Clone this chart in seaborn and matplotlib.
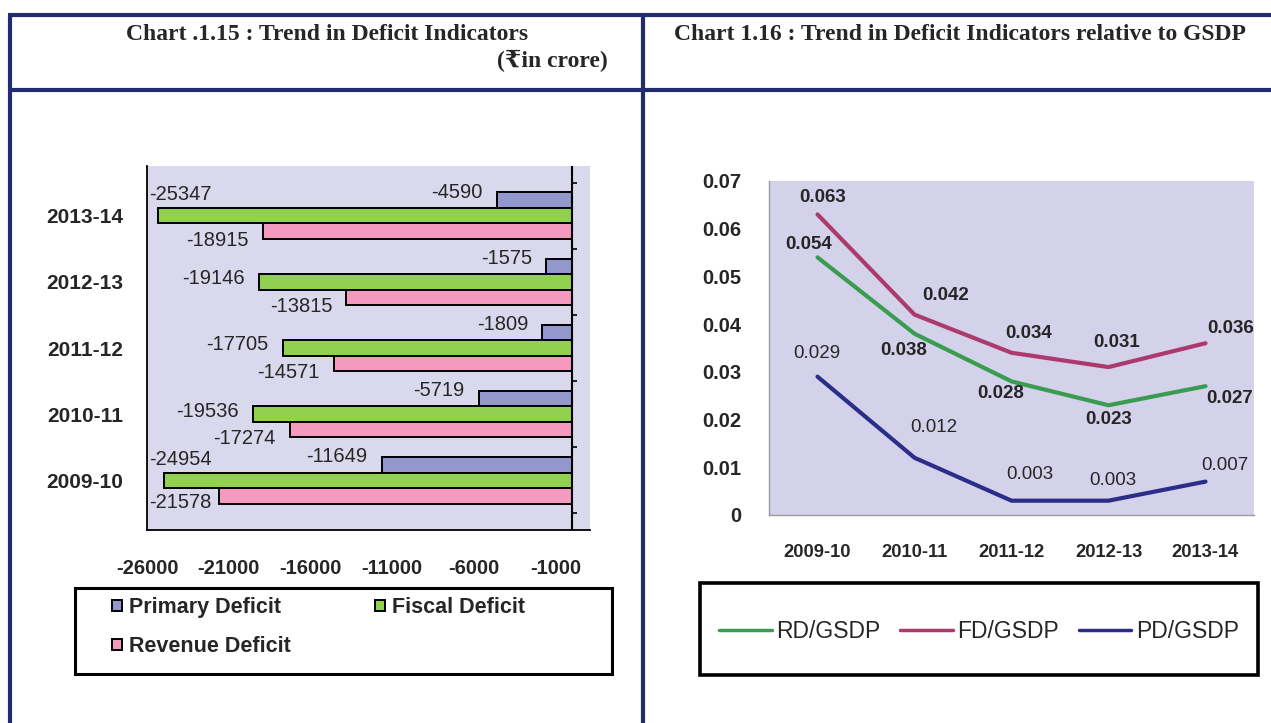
import matplotlib
matplotlib.use("Agg")
import matplotlib.pyplot as plt
import matplotlib.ticker as mticker
from matplotlib.lines import Line2D
from matplotlib.patches import Rectangle
import seaborn as sns
import pandas as pd
import numpy as np

# ---------------- data ----------------
years_bar = ["2013-14", "2012-13", "2011-12", "2010-11", "2009-10"]
primary_deficit = [-4590, -1575, -1809, -5719, -11649]
fiscal_deficit = [-25347, -19146, -17705, -19536, -24954]
revenue_deficit = [-18915, -13815, -14571, -17274, -21578]
bar_series = ["Primary Deficit", "Fiscal Deficit", "Revenue Deficit"]
bar_xticks = [-26000, -21000, -16000, -11000, -6000, -1000]

years_line = ["2009-10", "2010-11", "2011-12", "2012-13", "2013-14"]
rd_gsdp = [0.054, 0.038, 0.028, 0.023, 0.027]
fd_gsdp = [0.063, 0.042, 0.034, 0.031, 0.036]
pd_gsdp = [0.029, 0.012, 0.003, 0.003, 0.007]
line_series = ["RD/GSDP", "FD/GSDP", "PD/GSDP"]
line_yticks = [0, 0.01, 0.02, 0.03, 0.04, 0.05, 0.06, 0.07]

title_left = "Chart .1.15 : Trend in Deficit Indicators"
unit_left = "(₹in crore)"
title_right = "Chart 1.16 : Trend in Deficit Indicators relative to GSDP"

# ---------------- style ----------------
sns.set_theme(style="white")
plt.rcParams["font.family"] = ["Liberation Sans", "DejaVu Sans"]

W, H = 1271, 723
fig = plt.figure(figsize=(W / 100, H / 100), dpi=100)
fig.patch.set_facecolor("white")

def fx(px):
    return px / W

def fy(py):
    return 1 - py / H

navy = "#232c70"
bar_colors = {"Primary Deficit": "#9298cc", "Fiscal Deficit": "#92d050", "Revenue Deficit": "#f49ac0"}
line_colors = {"RD/GSDP": "#3a9c50", "FD/GSDP": "#ad3a6c", "PD/GSDP": "#2b2e88"}

# ---------------- frame lines ----------------
frame_kw = dict(color=navy, lw=3.0, transform=fig.transFigure, solid_capstyle="butt")
fig.add_artist(Line2D([fx(8), 1], [fy(15), fy(15)], **frame_kw))
fig.add_artist(Line2D([fx(8), 1], [fy(90), fy(90)], **frame_kw))
fig.add_artist(Line2D([fx(10), fx(10)], [0, fy(15)], **frame_kw))
fig.add_artist(Line2D([fx(643), fx(643)], [0, fy(15)], **frame_kw))

serif = ["Liberation Serif", "DejaVu Serif", "DejaVu Sans"]
fig.text(fx(327), fy(34), title_left, ha="center", va="center", fontsize=17,
         fontweight="bold", family=serif)
fig.text(fx(552), fy(61), unit_left, ha="center", va="center", fontsize=17,
         fontweight="bold", family=serif)
fig.text(fx(960), fy(34), title_right, ha="center", va="center", fontsize=17,
         fontweight="bold", family=serif)

# ---------------- left: bar chart ----------------
ax1 = fig.add_axes([fx(147), fy(530), fx(590) - fx(147), fy(166) - fy(530)])
ax1.set_facecolor("#d9d8ec")
df_bar = pd.DataFrame({
    "Year": years_bar * 3,
    "Value": primary_deficit + fiscal_deficit + revenue_deficit,
    "Indicator": [s for s in bar_series for _ in years_bar],
})
sns.barplot(data=df_bar, y="Year", x="Value", hue="Indicator", order=years_bar,
            hue_order=bar_series, palette=bar_colors, orient="h", width=0.7,
            edgecolor="black", linewidth=1.4, saturation=1, ax=ax1, legend=True)
ax1.set_xlim(-26000, 1100)
ax1.set_xticks(bar_xticks)
ax1.set_xticklabels([str(v) for v in bar_xticks])
ax1.set_xlabel("")
ax1.set_ylabel("")
for s in ["top", "right"]:
    ax1.spines[s].set_visible(False)
for s in ["left", "bottom"]:
    ax1.spines[s].set_color("black")
    ax1.spines[s].set_linewidth(1.3)
ax1.tick_params(axis="x", length=4, width=1.2, color="black", direction="out",
                pad=17, labelsize=14.5)
ax1.tick_params(axis="y", length=0, pad=17, labelsize=15)
for lab in ax1.get_xticklabels() + ax1.get_yticklabels():
    lab.set_fontweight("bold")
ax1.axvline(0, color="black", lw=1.5)
ax1.hlines([k - 0.5 for k in range(len(years_bar) + 1)], 0, 300, color="black", lw=1.2)

# bar value labels
dy_map = {"Primary Deficit": -8, "Fiscal Deficit": -3, "Revenue Deficit": 9}
dy_left = {"Primary Deficit": -8, "Fiscal Deficit": -21, "Revenue Deficit": 7}
for cont, name in zip(ax1.containers, bar_series):
    for rect in cont:
        v = rect.get_width()
        yc = rect.get_y() + rect.get_height() / 2
        if v < -21000:
            ax1.annotate(f"{int(round(v))}", (-26000, yc), xytext=(2, -dy_left[name]),
                         textcoords="offset pixels", ha="left", va="center", fontsize=14.5)
        else:
            ax1.annotate(f"{int(round(v))}", (v, yc), xytext=(-14, -dy_map[name]),
                         textcoords="offset pixels", ha="right", va="center", fontsize=14.5)

h1, l1 = ax1.get_legend_handles_labels()
ax1.get_legend().remove()
order = [0, 2, 1]
fig.legend([h1[i] for i in order], [l1[i] for i in order], loc="upper left",
           bbox_to_anchor=(fx(112), fy(597)), ncol=2, frameon=False,
           prop={"size": 15.5, "weight": "bold"},
           handlelength=0.45, handleheight=0.45, handletextpad=0.35, columnspacing=3.9,
           labelspacing=0.85, borderpad=0, borderaxespad=0)
fig.add_artist(Rectangle((fx(75), fy(674)), fx(612) - fx(75), fy(588) - fy(674),
                         transform=fig.transFigure, fill=False, edgecolor="black", lw=2.2))

# ---------------- right: line chart ----------------
ax2 = fig.add_axes([fx(769), fy(515), fx(1254) - fx(769), fy(181) - fy(515)])
ax2.set_facecolor("#d4d2ea")
df_line = pd.DataFrame({
    "Year": years_line * 3,
    "Value": rd_gsdp + fd_gsdp + pd_gsdp,
    "Series": [s for s in line_series for _ in years_line],
})
sns.lineplot(data=df_line, x="Year", y="Value", hue="Series", hue_order=line_series,
             palette=line_colors, linewidth=3, sort=False, ax=ax2, legend=True)
ax2.set_xlim(-0.5, len(years_line) - 0.5)
ax2.set_ylim(0, 0.07)
ax2.set_yticks(line_yticks)
ax2.yaxis.set_major_formatter(mticker.FuncFormatter(lambda v, p: "0" if abs(v) < 1e-9 else f"{v:.2f}"))
ax2.set_xticks(range(len(years_line)))
ax2.set_xticklabels(years_line)
ax2.set_xticks([k - 0.5 for k in range(len(years_line) + 1)], minor=True)
ax2.set_xlabel("")
ax2.set_ylabel("")
for s in ["top", "right"]:
    ax2.spines[s].set_visible(False)
for s in ["left", "bottom"]:
    ax2.spines[s].set_color("#9a9a9a")
    ax2.spines[s].set_linewidth(1.0)
ax2.tick_params(axis="x", which="major", length=0, pad=21, labelsize=13.2)
ax2.tick_params(axis="x", which="minor", length=4, color="#9a9a9a", direction="out")
ax2.tick_params(axis="y", length=4, color="#9a9a9a", direction="out", pad=16, labelsize=14.5)
for lab in ax2.get_xticklabels() + ax2.get_yticklabels():
    lab.set_fontweight("bold")

# value labels (pixel offsets from each point; +dy = up)
label_offsets = {
    "FD/GSDP": [(5, 17), (31, 19), (17, 19), (8, 25), (25, 15)],
    "RD/GSDP": [(-9, 13), (-11, -17), (-11, -12), (0, -14), (24, -12)],
    "PD/GSDP": [(-1, 23), (19, 30), (18, 26), (4, 20), (19, 16)],
}
label_weight = {"FD/GSDP": "bold", "RD/GSDP": "bold", "PD/GSDP": "normal"}
series_vals = {"RD/GSDP": rd_gsdp, "FD/GSDP": fd_gsdp, "PD/GSDP": pd_gsdp}
for name in line_series:
    for i, v in enumerate(series_vals[name]):
        dx, dy = label_offsets[name][i]
        ax2.annotate(f"{v:.3f}", (i, v), xytext=(dx, dy), textcoords="offset pixels",
                     ha="center", va="center", fontsize=13.5, fontweight=label_weight[name])

h2, l2 = ax2.get_legend_handles_labels()
ax2.get_legend().remove()
leg2 = fig.legend(h2, l2, loc="center left", bbox_to_anchor=(fx(719), fy(632)), ncol=3,
                  frameon=False, fontsize=16.5, handlelength=2.3, handletextpad=0.2,
                  columnspacing=0.85, borderpad=0, borderaxespad=0)
for ln in leg2.get_lines():
    ln.set_linewidth(2.5)
fig.add_artist(Rectangle((fx(700), fy(675)), fx(1258) - fx(700), fy(583) - fy(675),
                         transform=fig.transFigure, fill=False, edgecolor="black", lw=2.6))

fig.savefig("out.png", dpi=100, facecolor="white")
